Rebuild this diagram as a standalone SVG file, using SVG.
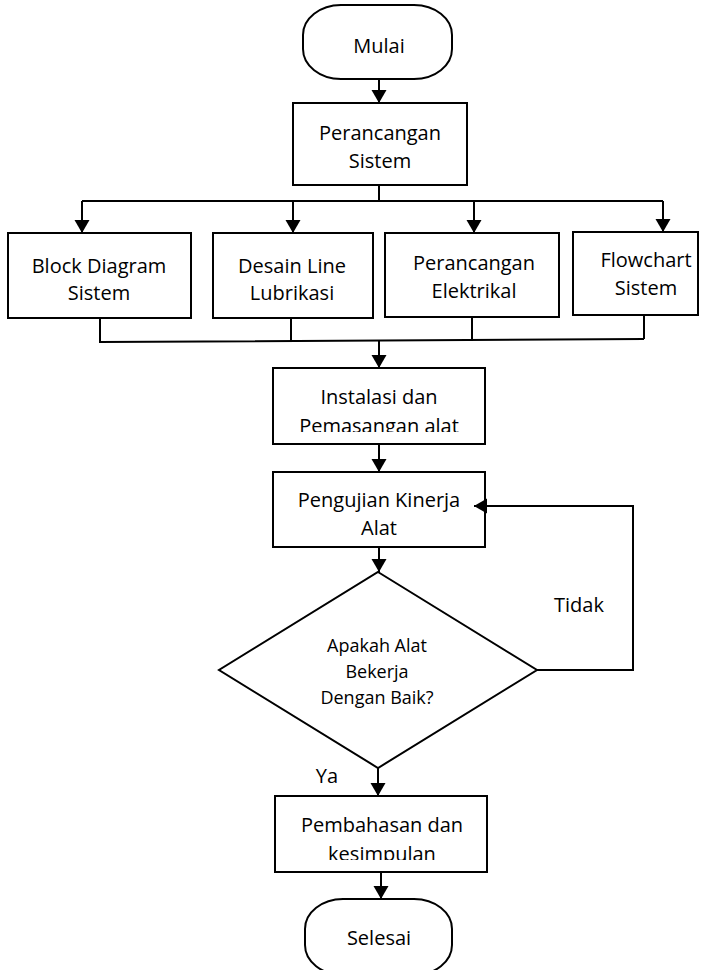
<svg xmlns="http://www.w3.org/2000/svg" width="712" height="970" viewBox="0 0 712 970">
<style>
.s{fill:#fff;stroke:#000;stroke-width:2}
.c{fill:none;stroke:#000;stroke-width:2}
text{font-family:"Open Sans","Liberation Sans",sans-serif;font-size:20px;fill:#000;text-anchor:middle}
.sm{font-size:18px}
</style>
<defs>
<marker id="a" markerUnits="userSpaceOnUse" markerWidth="14" markerHeight="16" refX="13" refY="7.5" orient="auto"><path d="M0,0 L13,7.5 L0,15 z" fill="#000"/></marker>
<clipPath id="c1"><rect x="273" y="368" width="212" height="64"/></clipPath>
<clipPath id="c2"><rect x="275" y="796" width="212" height="64"/></clipPath>
</defs>
<rect width="712" height="970" fill="#fff"/>
<g id="mulai"><rect class="s" x="303" y="5" width="149" height="74" rx="38" ry="30"/><text x="379" y="53">Mulai</text></g>
<g id="perancangan-sistem"><rect class="s" x="293" y="103" width="174" height="82"/><text x="380" y="140">Perancangan</text><text x="380" y="168">Sistem</text></g>
<g id="block-diagram"><rect class="s" x="8" y="233" width="183" height="85"/><text x="99" y="273">Block Diagram</text><text x="99" y="300">Sistem</text></g>
<g id="desain-line"><rect class="s" x="213" y="233" width="160" height="85"/><text x="292" y="273">Desain Line</text><text x="292" y="300">Lubrikasi</text></g>
<g id="perancangan-elektrikal"><rect class="s" x="385" y="233" width="174" height="84"/><text x="474" y="270">Perancangan</text><text x="474" y="298">Elektrikal</text></g>
<g id="flowchart"><rect class="s" x="573" y="232" width="125" height="83"/><text x="646" y="267">Flowchart</text><text x="646" y="295">Sistem</text></g>
<g id="instalasi"><rect class="s" x="273" y="368" width="212" height="76"/><g clip-path="url(#c1)"><text x="379" y="404">Instalasi dan</text><text x="379" y="433">Pemasangan alat</text></g></g>
<g id="pengujian"><rect class="s" x="273" y="472" width="212" height="75"/><text x="379" y="507">Pengujian Kinerja</text><text x="379" y="535">Alat</text></g>
<g id="keputusan"><polygon class="s" points="378,572 537,670 378,768 219,670"/><text class="sm" x="377" y="652">Apakah Alat</text><text class="sm" x="377" y="678">Bekerja</text><text class="sm" x="377" y="704">Dengan Baik?</text></g>
<g id="pembahasan"><rect class="s" x="275" y="796" width="212" height="76"/><g clip-path="url(#c2)"><text x="382" y="832">Pembahasan dan</text><text x="382" y="861">kesimpulan</text></g></g>
<g id="selesai"><rect class="s" x="305" y="899" width="147" height="76" rx="38" ry="30"/><text x="379" y="945">Selesai</text></g>
<g id="connectors">
<line class="c" x1="379" y1="79" x2="379" y2="103" marker-end="url(#a)"/>
<polyline class="c" points="379,185 379,201"/>
<line class="c" x1="82" y1="201" x2="663" y2="201"/>
<line class="c" x1="82" y1="201" x2="82" y2="233" marker-end="url(#a)"/>
<line class="c" x1="293" y1="201" x2="293" y2="233" marker-end="url(#a)"/>
<line class="c" x1="474" y1="201" x2="474" y2="233" marker-end="url(#a)"/>
<line class="c" x1="663" y1="201" x2="663" y2="232" marker-end="url(#a)"/>
<polyline class="c" points="100,318 100,342 644,339"/>
<line class="c" x1="291" y1="318" x2="291" y2="341"/>
<line class="c" x1="472" y1="317" x2="472" y2="340"/>
<line class="c" x1="644" y1="315" x2="644" y2="339"/>
<line class="c" x1="379" y1="340" x2="379" y2="368" marker-end="url(#a)"/>
<line class="c" x1="379" y1="444" x2="379" y2="472" marker-end="url(#a)"/>
<line class="c" x1="379" y1="547" x2="379" y2="572" marker-end="url(#a)"/>
<polyline class="c" points="537,670 633,670 633,506 474,506" marker-end="url(#a)"/>
<line class="c" x1="378" y1="768" x2="378" y2="796" marker-end="url(#a)"/>
<line class="c" x1="381" y1="872" x2="381" y2="899" marker-end="url(#a)"/>
</g>
<text x="579" y="612">Tidak</text>
<text x="327" y="783">Ya</text>
</svg>
